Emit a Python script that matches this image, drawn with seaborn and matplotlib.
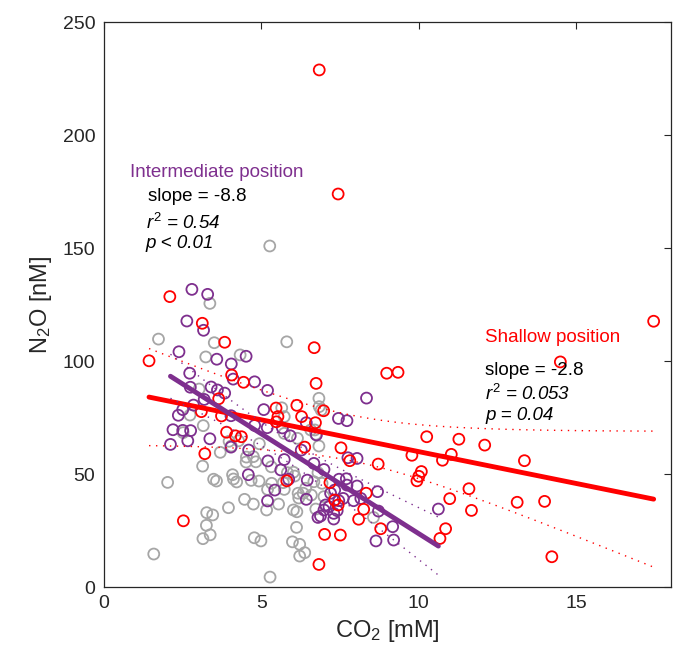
import matplotlib
matplotlib.use('Agg')
import matplotlib.pyplot as plt
import numpy as np
import pandas as pd
import seaborn as sns

# deep (grey) samples
deep_co2 = [3.37, 1.74, 3.51, 3.24, 4.33, 5.81, 5.27, 3.03, 2.74, 3.16, 2.52, 3.98, 4.28, 4.94,
            5.65, 5.73, 3.70, 4.53, 4.75, 4.83, 4.52, 3.14, 5.32, 2.03, 3.49, 3.58, 4.09, 4.12,
            4.22, 4.68, 4.93, 5.20, 4.47, 4.75, 5.17, 3.96, 3.27, 3.46, 3.26, 3.15, 3.38, 4.78,
            4.99, 1.59, 5.28, 5.55, 6.02, 6.13, 6.12, 5.99, 6.22, 6.22, 6.38, 5.83, 6.02, 6.06,
            5.33, 5.70, 5.73, 6.17, 6.33, 6.41, 6.59, 6.19, 6.99, 6.73, 6.67, 6.93, 6.80, 8.56,
            6.15, 6.73, 6.83, 5.73, 6.57, 6.70, 6.83, 6.84, 6.90, 4.05]
deep_n2o = [125.5, 109.7, 108.1, 101.8, 102.7, 108.5, 150.9, 87.6, 76.1, 71.4, 68.3, 64.5, 64.7, 63.4,
            79.3, 75.4, 59.6, 57.5, 57.7, 55.4, 55.3, 53.5, 53.2, 46.3, 47.7, 46.9, 49.7, 47.8,
            46.5, 47.2, 46.9, 43.2, 38.8, 36.7, 34.1, 35.1, 32.9, 31.9, 27.3, 21.4, 23.1, 21.8,
            20.4, 14.6, 4.4, 36.7, 34.1, 33.3, 26.4, 20.0, 18.9, 13.7, 15.2, 50.6, 50.8, 49.1,
            45.9, 46.2, 43.2, 41.5, 41.5, 43.7, 40.7, 39.4, 40.0, 34.5, 46.6, 45.9, 50.6, 30.8,
            65.8, 67.6, 62.4, 68.0, 69.5, 69.5, 83.5, 79.8, 78.3, 62.4]

# intermediate position (purple)
mid_co2 = [2.80, 3.30, 2.64, 3.17, 2.39, 3.59, 4.52, 4.05, 2.73, 4.11, 4.79, 5.20, 2.75, 3.41,
           3.61, 3.84, 3.19, 2.85, 2.51, 2.37, 4.04, 5.08, 2.20, 2.51, 2.76, 4.79, 5.19, 5.67,
           5.92, 2.12, 2.67, 3.37, 4.04, 4.60, 5.21, 5.73, 5.62, 4.59, 5.87, 5.43, 5.20, 8.34,
           6.43, 7.45, 7.72, 6.27, 7.75, 8.04, 6.67, 6.99, 6.46, 7.47, 7.70, 7.72, 8.04, 8.69,
           7.33, 7.20, 6.43, 7.60, 7.46, 7.93, 8.16, 7.04, 7.15, 7.41, 7.30, 6.99, 6.88, 6.80,
           8.72, 7.30, 9.17, 8.64, 9.20, 10.62, 6.75]
mid_n2o = [131.7, 129.5, 117.7, 113.6, 104.1, 100.8, 102.1, 98.7, 94.6, 92.0, 90.8, 87.0, 88.4, 88.5,
           87.2, 85.8, 83.0, 80.5, 78.5, 76.0, 75.8, 78.5, 69.6, 69.3, 69.2, 71.5, 70.5, 70.4,
           66.9, 63.1, 64.7, 65.6, 61.9, 60.6, 55.8, 56.4, 51.8, 49.7, 47.7, 42.9, 38.1, 83.6,
           72.7, 74.6, 73.6, 60.6, 57.2, 56.9, 54.7, 52.0, 47.3, 47.7, 47.9, 45.1, 44.7, 42.2,
           42.9, 41.5, 38.8, 39.2, 38.2, 38.2, 39.2, 36.3, 35.5, 33.8, 32.6, 34.1, 31.4, 30.8,
           33.6, 30.1, 26.7, 20.4, 20.8, 34.5, 67.3]

# shallow position (red)
shallow_co2 = [1.44, 2.10, 3.13, 3.84, 4.06, 4.44, 3.65, 3.10, 3.74, 3.90, 4.18, 4.37, 3.21, 2.53,
               5.47, 6.13, 5.53, 5.48, 6.68, 6.84, 7.44, 8.98, 9.34, 6.74, 6.98, 6.28, 6.72, 6.38,
               7.53, 7.81, 8.71, 5.81, 7.18, 8.33, 7.33, 7.44, 8.25, 8.09, 8.79, 7.01, 7.51, 6.83,
               9.78, 10.25, 10.08, 10.00, 9.94, 11.27, 12.09, 10.75, 11.03, 13.35, 11.59, 10.98,
               11.67, 13.12, 13.99, 10.85, 10.67, 14.22, 14.49, 17.45]
shallow_n2o = [100.1, 128.5, 116.7, 108.3, 93.8, 90.6, 83.3, 77.6, 75.7, 68.5, 66.9, 66.5, 59.0, 29.3,
               79.2, 80.4, 75.4, 73.1, 105.9, 228.8, 173.9, 94.6, 95.0, 90.1, 78.0, 75.4, 72.7, 61.9,
               61.6, 55.9, 54.4, 47.0, 46.2, 41.5, 38.5, 36.3, 34.4, 30.0, 25.8, 23.3, 23.0, 10.0,
               58.3, 66.5, 51.1, 49.0, 47.0, 65.4, 62.8, 56.1, 58.7, 55.9, 43.5, 39.1,
               33.9, 37.5, 37.9, 25.8, 21.5, 13.4, 99.6, 117.6]

# fit results as printed on the chart /
mid_slope, mid_intercept = -8.84, 112.0
shallow_slope, shallow_intercept = -2.82, 88.1

mid_labels = ['Intermediate position', 'slope = -8.8', '$r^2$ = 0.54', 'p < 0.01']
shallow_labels = ['Shallow position', 'slope = -2.8', '$r^2$ = 0.053', 'p = 0.04']

RED = '#FF0000'
PURPLE = '#7E2F8E'
GREY = '#A6A6A6'
AXC = '#262626'

sns.set_style('white')
plt.rcParams['font.family'] = ['Liberation Sans', 'DejaVu Sans']
plt.rcParams['mathtext.fontset'] = 'custom'
plt.rcParams['mathtext.it'] = 'Liberation Sans:italic'
plt.rcParams['mathtext.rm'] = 'Liberation Sans'


def fit_band(x, y, slope, intercept, k=2.5):
    x = np.asarray(x)
    y = np.asarray(y)
    xs = np.linspace(x.min(), x.max(), 100)
    resid = y - (intercept + slope * x)
    n = len(x)
    s = np.sqrt((resid ** 2).sum() / (n - 2))
    sxx = ((x - x.mean()) ** 2).sum()
    half = k * s * np.sqrt(1 / n + (xs - x.mean()) ** 2 / sxx)
    fit = intercept + slope * xs
    return xs, fit, fit - half, fit + half


fig, ax = plt.subplots(figsize=(6.73, 6.57), dpi=100)
ax.set_position([0.154, 0.1065, 0.843, 0.860])

for xv, yv, c in [(deep_co2, deep_n2o, GREY), (mid_co2, mid_n2o, PURPLE), (shallow_co2, shallow_n2o, RED)]:
    sns.scatterplot(x=xv, y=yv, ax=ax, marker='o', s=62, facecolor='none',
                    edgecolor=c, linewidth=1.3, zorder=2)

xs, fit, lo, hi = fit_band(shallow_co2, shallow_n2o, shallow_slope, shallow_intercept, k=2.2)
ax.plot(xs, fit, color=RED, lw=3.5, zorder=3)
ax.plot(xs, lo, color=RED, lw=1, ls=(0, (1, 4)), zorder=3)
ax.plot(xs, hi, color=RED, lw=1, ls=(0, (1, 4)), zorder=3)

xs, fit, lo, hi = fit_band(mid_co2, mid_n2o, mid_slope, mid_intercept, k=2.5)
ax.plot(xs, fit, color=PURPLE, lw=3.5, zorder=4)
ax.plot(xs, lo, color=PURPLE, lw=1, ls=(0, (1, 4)), zorder=4)
ax.plot(xs, hi, color=PURPLE, lw=1, ls=(0, (1, 4)), zorder=4)

ax.text(0.84, 183.6, mid_labels[0], color=PURPLE, fontsize=13.5, va='center')
ax.text(1.40, 172.6, mid_labels[1], color='k', fontsize=13.5, va='center')
ax.text(1.34, 161.0, mid_labels[2], color='k', fontsize=13.5, va='center', style='italic')
ax.text(1.34, 152.2, mid_labels[3], color='k', fontsize=13.5, va='center', style='italic')

ax.text(12.1, 110.6, shallow_labels[0], color=RED, fontsize=13.5, va='center')
ax.text(12.1, 96.0, shallow_labels[1], color='k', fontsize=13.5, va='center')
ax.text(12.1, 85.6, shallow_labels[2], color='k', fontsize=13.5, va='center', style='italic')
ax.text(12.1, 76.1, shallow_labels[3], color='k', fontsize=13.5, va='center', style='italic')

ax.set_xlim(0, 18)
ax.set_ylim(0, 250)
ax.set_xticks([0, 5, 10, 15])
ax.set_yticks([0, 50, 100, 150, 200, 250])
ax.tick_params(direction='in', length=5, width=0.8, colors=AXC, labelsize=14,
               top=True, right=True, labeltop=False, labelright=False, pad=6)
for sp in ax.spines.values():
    sp.set_color(AXC)
    sp.set_linewidth(0.9)
ax.set_xlabel('CO$_2$ [mM]', fontsize=17, color=AXC, labelpad=4)
ax.set_ylabel('N$_2$O [nM]', fontsize=17, color=AXC, labelpad=6)

fig.savefig('out.png', dpi=100)
